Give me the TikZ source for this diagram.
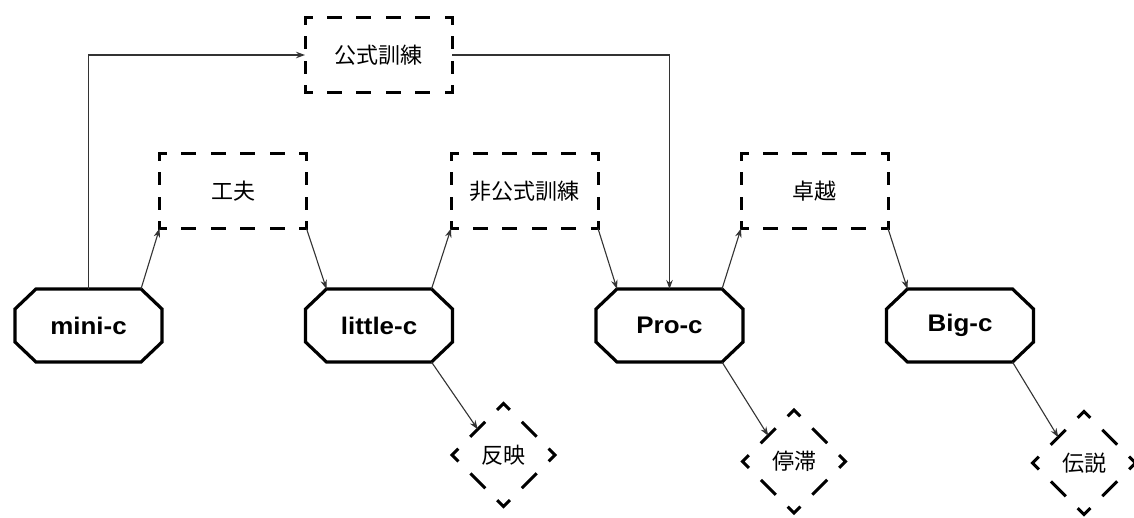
\documentclass[tikz,border=0pt]{standalone}
\usepackage{fontspec}
\setmainfont{Liberation Sans}
\newfontfamily\cjk{Noto Sans CJK JP}
\newfontfamily\lab[FakeStretch=1.08]{Liberation Sans}
\usetikzlibrary{calc,arrows.meta}
\tikzset{
  conn/.style={-{Stealth[length=9pt,width=6.5pt]}, line width=1.1pt, draw=black!80},
  hside/.style={line width=3pt, line cap=rect, dash pattern=on 12pt off 17.4pt, dash phase=6pt},
  vside/.style={line width=3pt, line cap=rect, dash pattern=on 10pt off 14.333pt, dash phase=4pt},
  octline/.style={line width=3.2pt, line join=miter},
  dline/.style={line width=3pt, line cap=rect, dash pattern=on 18pt off 19.9pt on 15pt off 19.9pt, dash phase=9pt},
  labtext/.style={font=\lab\bfseries\fontsize{24}{28}\selectfont},
  cjktext/.style={font=\cjk\fontsize{22}{26}\selectfont},
}
\newcommand\octbox[4]{%
  \node[labtext, minimum width=147pt, minimum height=73pt, inner sep=0pt, outer sep=0pt] (#1) at (#2,#3) {#4};
  \coordinate (#1-tl) at ($(#1.north west)+(21pt,0pt)$);
  \coordinate (#1-tr) at ($(#1.north east)+(-21pt,0pt)$);
  \coordinate (#1-bl) at ($(#1.south west)+(21pt,0pt)$);
  \coordinate (#1-br) at ($(#1.south east)+(-21pt,0pt)$);
  \draw[octline] (#1-tl) -- (#1-tr) -- ($(#1.north east)+(0pt,-20pt)$) -- ($(#1.south east)+(0pt,20pt)$)
     -- (#1-br) -- (#1-bl) -- ($(#1.south west)+(0pt,20pt)$) -- ($(#1.north west)+(0pt,-20pt)$) -- cycle;
}
\newcommand\dbox[4]{%
  \node[cjktext, minimum width=147pt, minimum height=75pt, inner sep=0pt, outer sep=0pt] (#1) at (#2,#3) {#4};
  \draw[hside] (#1.north west) -- (#1.north east);
  \draw[hside] (#1.south west) -- (#1.south east);
  \draw[vside] (#1.north west) -- (#1.south west);
  \draw[vside] (#1.north east) -- (#1.south east);
}
\newcommand\ddia[4]{%
  \node[cjktext, inner sep=0pt, outer sep=0pt] (#1) at (#2,#3) {#4};
  \coordinate (#1-nw) at ($(#1.center)+(-25.75pt,25.75pt)$);
  \draw[dline] (#1-nw) -- ($(#1.center)+(0pt,51.5pt)$) -- ($(#1.center)+(51.5pt,0pt)$)
     -- ($(#1.center)+(0pt,-51.5pt)$) -- ($(#1.center)+(-51.5pt,0pt)$) -- cycle;
}
\begin{document}
\begin{tikzpicture}[x=1pt,y=-1pt]
\useasboundingbox[fill=white] (0,0) rectangle (1134,517);
\octbox{mini}{88.5}{325.5}{mini-c}
\octbox{little}{379}{325.5}{little-c}
\octbox{pro}{669.5}{325.5}{Pro-c}
\octbox{big}{960}{325.5}{Big-c}
\dbox{formal}{378.5}{55}{公式訓練}
\dbox{kufu}{233}{191}{工夫}
\dbox{informal}{524.5}{191}{非公式訓練}
\dbox{excel}{814.5}{191}{卓越}
\ddia{hanei}{503.5}{455}{反映}
\ddia{teitai}{794}{461.5}{停滞}
\ddia{densetsu}{1084}{463}{伝説}
\draw[conn] (mini.north) |- (formal.west);
\draw[conn] (formal.east) -| (pro.north);
\draw[conn] (mini-tr) -- (kufu.south west);
\draw[conn] (kufu.south east) -- (little-tl);
\draw[conn] (little-tr) -- (informal.south west);
\draw[conn] (informal.south east) -- (pro-tl);
\draw[conn] (pro-tr) -- (excel.south west);
\draw[conn] (excel.south east) -- (big-tl);
\draw[conn] (little-br) -- (hanei-nw);
\draw[conn] (pro-br) -- (teitai-nw);
\draw[conn] (big-br) -- (densetsu-nw);
\end{tikzpicture}
\end{document}
